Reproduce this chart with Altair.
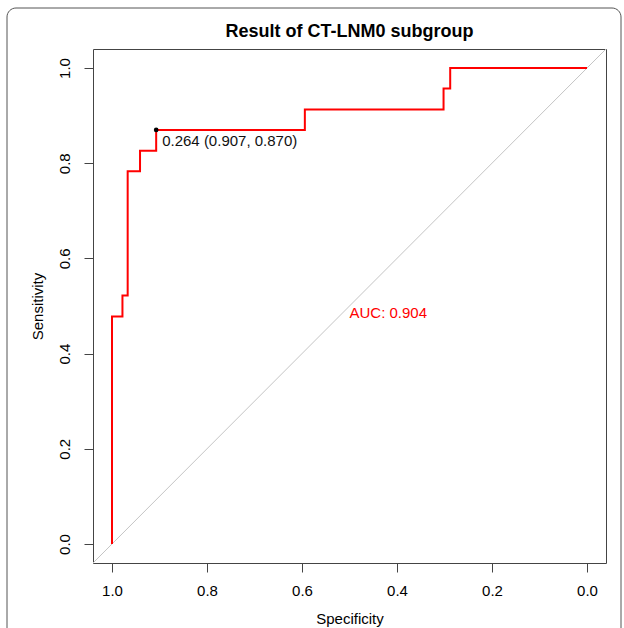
import altair as alt
import pandas as pd

# ROC step corners (specificity, sensitivity)
spec = [1.0, 1.0, 0.978, 0.967, 0.941, 0.907, 0.594, 0.302, 0.288, 0.0]
sens = [0.0, 0.478, 0.522, 0.783, 0.826, 0.870, 0.913, 0.957, 1.0, 1.0]

thr_spec = [0.907]
thr_sens = [0.870]
thr_label = ["0.264 (0.907, 0.870)"]

auc_x = [0.5]
auc_y = [0.5]
auc_label = ["AUC: 0.904"]

diag_x = [1.04]
diag_y = [-0.04]
diag_x2 = [-0.04]
diag_y2 = [1.04]

ticks = [0.0, 0.2, 0.4, 0.6, 0.8, 1.0]
title_text = ["Result of CT-LNM0 subgroup"]

FONT = "Liberation Sans"

roc = pd.DataFrame({"spec": spec, "sens": sens, "order": list(range(len(spec)))})
thr = pd.DataFrame({"spec": thr_spec, "sens": thr_sens, "label": thr_label})
auc = pd.DataFrame({"spec": auc_x, "sens": auc_y, "label": auc_label})
diag = pd.DataFrame({"x": diag_x, "y": diag_y, "x2": diag_x2, "y2": diag_y2})
ttl = pd.DataFrame({"t": title_text})

xscale = alt.Scale(domain=[-0.04, 1.04], reverse=True, nice=False, zero=False)
yscale = alt.Scale(domain=[-0.04, 1.04], nice=False, zero=False)

xaxis = alt.Axis(
    title="Specificity", values=ticks, format=".1f", grid=False, domain=False,
    tickSize=9, tickColor="#444", labelFontSize=15, labelFont=FONT, labelColor="#000",
    labelPadding=11, titleFont=FONT, titleFontSize=15, titleFontWeight="normal",
    titleColor="#000", titlePadding=13,
)
yaxis = alt.Axis(
    title="Sensitivity", values=ticks, format=".1f", grid=False, domain=False,
    tickSize=9, tickColor="#444", labelFontSize=15, labelFont=FONT, labelColor="#000",
    labelAngle=270, labelAlign="center", labelBaseline="bottom", labelPadding=12,
    titleFont=FONT, titleFontSize=15, titleFontWeight="normal", titleColor="#000",
    titlePadding=12,
)

frame = alt.Chart(alt.Data(values=[{"a": 1}])).mark_rect(
    fill=None, stroke="#555", strokeWidth=1, cornerRadius=9
).encode(
    x=alt.value(-86), x2=alt.value(528), y=alt.value(-41), y2=alt.value(620)
)

title_layer = alt.Chart(ttl).mark_text(
    font=FONT, fontSize=18, fontWeight="bold", color="#000",
    align="center", baseline="alphabetic"
).encode(
    x=alt.value(256.5), y=alt.value(-12), text="t:N"
)

diag_layer = alt.Chart(diag).mark_rule(color="#C4C4C4", strokeWidth=1).encode(
    x=alt.X("x:Q", scale=xscale, axis=xaxis),
    y=alt.Y("y:Q", scale=yscale, axis=yaxis),
    x2="x2:Q",
    y2="y2:Q",
)

roc_layer = alt.Chart(roc).mark_line(
    color="#FF0000", strokeWidth=2, interpolate="step-after"
).encode(
    x=alt.X("spec:Q", scale=xscale, axis=xaxis),
    y=alt.Y("sens:Q", scale=yscale, axis=yaxis),
    order="order:Q",
)

pt_layer = alt.Chart(thr).mark_circle(color="#000", size=22, opacity=1).encode(
    x=alt.X("spec:Q", scale=xscale),
    y=alt.Y("sens:Q", scale=yscale),
)

thr_text = alt.Chart(thr).mark_text(
    align="left", baseline="middle", dx=6, dy=11, fontSize=15, font=FONT, color="#111"
).encode(
    x=alt.X("spec:Q", scale=xscale),
    y=alt.Y("sens:Q", scale=yscale),
    text="label:N",
)

auc_text = alt.Chart(auc).mark_text(
    align="left", baseline="top", fontSize=15, font=FONT, color="#FF0000"
).encode(
    x=alt.X("spec:Q", scale=xscale),
    y=alt.Y("sens:Q", scale=yscale),
    text="label:N",
)

chart = alt.layer(
    frame, title_layer, diag_layer, roc_layer, pt_layer, thr_text, auc_text
).properties(
    width=513,
    height=514,
    autosize=alt.AutoSizeParams(type="none"),
    padding={"left": 93, "top": 49, "right": 18, "bottom": 65},
    background="white",
).configure_view(
    stroke="#444", strokeWidth=1
)

chart.save("out.html", embed_options={"renderer": "svg", "actions": False})
